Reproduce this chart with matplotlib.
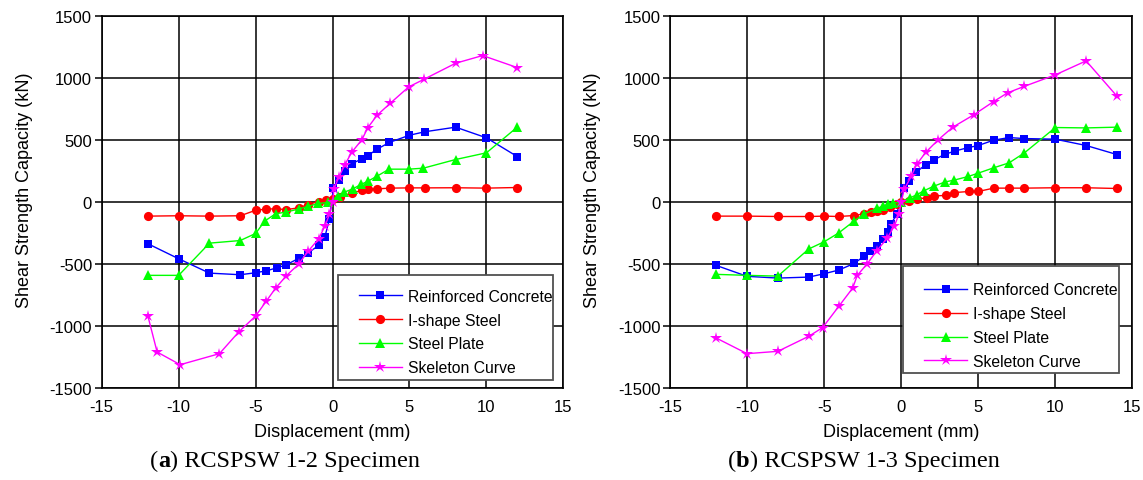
import numpy as np
import matplotlib
matplotlib.use("Agg")
import matplotlib.pyplot as plt
from matplotlib.patches import Rectangle

plt.rcParams["font.family"] = ["Liberation Sans", "DejaVu Sans"]
plt.rcParams["axes.unicode_minus"] = False

# ---- (a) RCSPSW 1-2 ----
rc_a_x = [-12, -10, -8, -6, -5, -4.3, -3.6, -3, -2.2, -1.6, -0.9, -0.5, -0.2, 0.05,
          0.4, 0.8, 1.25, 1.9, 2.3, 2.9, 3.7, 5, 6, 8, 10, 12]
rc_a_y = [-336, -457, -573, -586, -570, -554, -530, -505, -454, -411, -349, -282, -134, 110,
          178, 255, 310, 349, 376, 428, 482, 540, 568, 605, 519, 368]

is_a_x = [-12, -10, -8, -6, -5, -4.3, -3.7, -3, -2.2, -1.6, -0.9, -0.4, 0, 0.5,
          1.25, 1.9, 2.3, 2.9, 3.75, 5, 6, 8, 10, 12]
is_a_y = [-113, -110, -113, -110, -66, -56, -54, -60, -46, -20, 5, 15, 25, 45,
          73, 94, 102, 107, 113, 115, 115, 116, 113, 118]

sp_a_x = [-12, -10, -8, -6, -5, -4.4, -3.7, -3, -2.2, -1.6, -0.95, -0.3, 0.35, 0.75,
          1.3, 1.87, 2.3, 2.87, 3.67, 4.95, 5.9, 8, 10, 12]
sp_a_y = [-591, -591, -331, -310, -253, -152, -94, -80, -55, -35, -11, -3, 50, 80,
          106, 144, 169, 208, 266, 266, 274, 344, 398, 605]

sk_a_x = [-12, -11.4, -9.9, -7.35, -6.1, -5, -4.3, -3.7, -3, -2.2, -1.6, -0.9, -0.5, -0.2,
          0, 0.1, 0.4, 0.8, 1.25, 1.9, 2.3, 2.9, 3.75, 4.95, 5.95, 8, 9.75, 12]
sk_a_y = [-919, -1210, -1312, -1223, -1048, -919, -798, -694, -594, -500, -398, -296, -194, -99,
          0, 108, 200, 302, 403, 503, 602, 702, 798, 930, 992, 1121, 1183, 1086]

# ---- (b) RCSPSW 1-3 ----
rc_b_x = [-12, -10, -8, -6, -5, -4.05, -3.05, -2.4, -2.0, -1.55, -1.2, -0.88, -0.66, -0.3,
          0.2, 0.5, 0.95, 1.6, 2.1, 2.85, 3.5, 4.35, 5, 6, 7, 8, 10, 12, 14]
rc_b_y = [-511, -599, -613, -605, -578, -548, -495, -435, -392, -352, -300, -240, -180, -96,
          115, 172, 240, 303, 341, 386, 413, 440, 457, 500, 521, 513, 508, 457, 384]

is_b_x = [-12, -10, -8, -6, -5, -4.05, -3.05, -2.4, -1.95, -1.55, -1.15, -0.75, -0.3, 0,
          0.5, 1.0, 1.65, 2.1, 2.9, 3.45, 4.4, 5, 6, 7, 8, 10, 12, 14]
is_b_y = [-113, -113, -116, -116, -113, -116, -108, -94, -83, -75, -62, -38, -16, -3,
          13, 25, 35, 50, 54, 77, 86, 86, 113, 113, 113, 116, 116, 110]

sp_b_x = [-12, -10, -8, -6, -5, -4.05, -3.05, -2.4, -1.55, -1.15, -0.85, -0.55, 0, 0.55,
          1.0, 1.45, 2.1, 2.85, 3.45, 4.35, 5, 6, 7, 8, 10, 12, 14]
sp_b_y = [-583, -591, -597, -378, -320, -248, -152, -94, -50, -30, -18, -11, 5, 33,
          59, 90, 128, 163, 178, 207, 234, 277, 317, 398, 602, 599, 605]

sk_b_x = [-12, -10, -8, -6, -5.1, -4.05, -3.15, -2.85, -2.2, -1.6, -0.9, -0.45, -0.15, 0,
          0.2, 0.65, 1.0, 1.6, 2.4, 3.35, 4.7, 6, 6.9, 8, 10, 12, 14]
sk_b_y = [-1097, -1223, -1204, -1083, -1013, -841, -694, -591, -497, -395, -290, -194, -99, 0,
          105, 207, 304, 403, 503, 605, 704, 812, 882, 935, 1027, 1140, 855]

labels = ["Reinforced Concrete", "I-shape Steel", "Steel Plate", "Skeleton Curve"]
styles = [("#0000FF", "s", 5.6), ("#FF0000", "o", 6.6), ("#00FF00", "^", 7.2), ("#FF00FF", "*", 9)]

fig = plt.figure(figsize=(11.43, 4.81), dpi=100)
ax_a = fig.add_axes([0.0890, 0.1913, 0.4039, 0.7728])
ax_b = fig.add_axes([0.5862, 0.1913, 0.4045, 0.7728])

panels = [
    (ax_a, [(rc_a_x, rc_a_y), (is_a_x, is_a_y), (sp_a_x, sp_a_y), (sk_a_x, sk_a_y)],
     (0.511, 0.0223, 0.466, 0.2825), (0.557, 0.267)),
    (ax_b, [(rc_b_x, rc_b_y), (is_b_x, is_b_y), (sp_b_x, sp_b_y), (sk_b_x, sk_b_y)],
     (0.504, 0.040, 0.467, 0.288), (0.550, 0.284)),
]

for ax, series, box, anchor in panels:
    for (xs, ys), lab, (col, mk, ms) in zip(series, labels, styles):
        ax.plot(xs, ys, color=col, marker=mk, markersize=ms, linewidth=1.0,
                markeredgewidth=0, label=lab, zorder=3)
    ax.set_xlim(-15, 15)
    ax.set_ylim(-1500, 1500)
    ax.set_xticks(np.arange(-15, 16, 5))
    ax.set_yticks(np.arange(-1500, 1501, 500))
    ax.grid(True, color="black", linewidth=1.1)
    ax.set_axisbelow(True)
    for s in ax.spines.values():
        s.set_linewidth(1.2)
    ax.tick_params(axis="y", direction="out", length=5, width=1.1, pad=2, labelsize=12)
    ax.tick_params(axis="x", length=0, pad=8, labelsize=12)
    ax.set_xlabel("Displacement (mm)", fontsize=13)
    ax.set_ylabel("Shear Strength Capacity (kN)", fontsize=13)
    ax.xaxis.set_label_coords(0.5, -0.094)
    ax.yaxis.set_label_coords(-0.149, 0.534)

    # legend frame drawn separately (asymmetric padding in the original)
    ax.add_patch(Rectangle((box[0], box[1]), box[2], box[3], transform=ax.transAxes,
                           facecolor="white", edgecolor="#505050", linewidth=1.3, zorder=4))
    leg = ax.legend(loc="upper left", bbox_to_anchor=anchor, frameon=False, fontsize=11.3,
                    borderpad=0, borderaxespad=0, labelspacing=0.56, handlelength=2.72,
                    handletextpad=0.38)
    leg.set_zorder(5)

# captions with bold panel letter
for x0, letter, rest in [(150, "a", ") RCSPSW 1-2 Specimen"), (728, "b", ") RCSPSW 1-3 Specimen")]:
    t1 = fig.text(x0 / 1143, 14 / 481, "(", fontsize=17.5, family="Liberation Serif",
                  va="baseline", ha="left")
    t2 = fig.text(0, 0, letter, fontsize=17.5, family="Liberation Serif", weight="bold")
    t3 = fig.text(0, 0, rest, fontsize=17.5, family="Liberation Serif")
    fig.canvas.draw()
    r = fig.canvas.get_renderer()
    bb = t1.get_window_extent(r)
    t2.set_position((bb.x1 / fig.bbox.width, 14 / 481))
    t2.set_va("baseline")
    fig.canvas.draw()
    bb2 = t2.get_window_extent(r)
    t3.set_position((bb2.x1 / fig.bbox.width, 14 / 481))
    t3.set_va("baseline")

fig.savefig("out.png", dpi=100)
